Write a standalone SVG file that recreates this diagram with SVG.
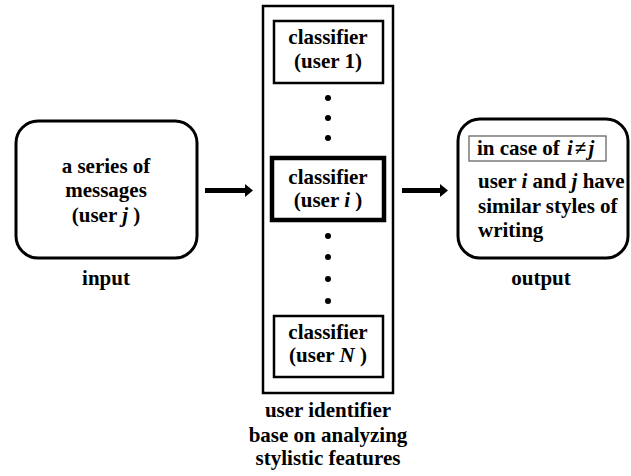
<svg xmlns="http://www.w3.org/2000/svg" width="631" height="476" viewBox="0 0 631 476">
<style>
text{font-family:"Liberation Serif","Times New Roman",serif;font-weight:bold;font-size:21px;fill:#000}
.c{text-anchor:middle}
.box{fill:#fff;stroke:#000;stroke-width:2.5}
.round{fill:#fff;stroke:#000;stroke-width:3}
.dot{fill:#000}
.arrow{fill:#000}
</style>
<g id="input">
<rect class="round" x="16" y="121" width="181" height="137" rx="22"/>
<text class="c" x="106" y="173">a series of</text>
<text class="c" x="106" y="197">messages</text>
<text class="c" x="106" y="222">(user <tspan font-style="italic">j</tspan> )</text>
<text class="c" x="106" y="285">input</text>
</g>
<g id="identifier">
<rect class="box" x="263" y="6" width="130" height="387"/>
<text class="c" x="328" y="417">user identifier</text>
<text class="c" x="328" y="442">base on analyzing</text>
<text class="c" x="328" y="465">stylistic features</text>
</g>
<g id="classifier1">
<rect class="box" x="274" y="21" width="109" height="62"/>
<text class="c" x="328" y="44">classifier</text>
<text class="c" x="328" y="68">(user 1)</text>
</g>
<g id="dots1">
<circle class="dot" cx="328" cy="98" r="3"/>
<circle class="dot" cx="328" cy="118" r="3"/>
<circle class="dot" cx="328" cy="138" r="3"/>
</g>
<g id="classifieri">
<rect x="272" y="158" width="112" height="62" fill="#fff" stroke="#000" stroke-width="4.5"/>
<text class="c" x="328" y="184">classifier</text>
<text class="c" x="328" y="207">(user <tspan font-style="italic">i</tspan> )</text>
</g>
<g id="dots2">
<circle class="dot" cx="328" cy="236" r="3"/>
<circle class="dot" cx="328" cy="257" r="3"/>
<circle class="dot" cx="328" cy="279" r="3"/>
<circle class="dot" cx="328" cy="301" r="3"/>
</g>
<g id="classifierN">
<rect class="box" x="274" y="316" width="109" height="61"/>
<text class="c" x="328" y="339">classifier</text>
<text class="c" x="328" y="362">(user <tspan font-style="italic">N</tspan> )</text>
</g>
<g id="output">
<rect class="round" x="458" y="119" width="170" height="139" rx="22"/>
<rect x="469" y="136" width="137" height="25" fill="#fff" stroke="#666" stroke-width="1.3"/>
<text x="477" y="155" font-size="20">in case of<tspan x="567" font-style="italic">i</tspan><tspan dx="2">≠</tspan><tspan dx="2" font-style="italic">j</tspan></text>
<text x="478" y="188">user <tspan font-style="italic">i</tspan> and <tspan font-style="italic">j</tspan> have</text>
<text x="478" y="213">similar styles of</text>
<text x="478" y="237">writing</text>
<text class="c" x="541" y="285">output</text>
</g>
<g id="connectors">
<rect x="205" y="188" width="41" height="5"/>
<polygon class="arrow" points="245,184 253,190.5 245,197"/>
<rect x="402" y="188" width="39" height="5"/>
<polygon class="arrow" points="440,184 448,190.5 440,197"/>
</g>
</svg>
